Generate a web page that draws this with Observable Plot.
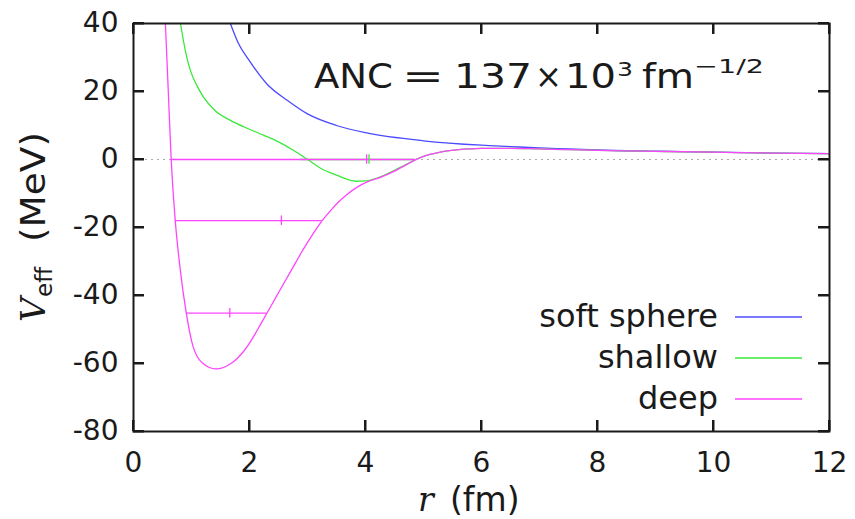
<!DOCTYPE html>
<html><head><meta charset="utf-8">
<script src="https://cdn.jsdelivr.net/npm/d3@7"></script>
<script src="https://cdn.jsdelivr.net/npm/@observablehq/plot@0.6"></script>
<style>body{margin:0;background:#fff}</style>
</head><body><div id="chart"></div>
<script>
const xTicks = [0, 2, 4, 6, 8, 10, 12];
const yTicks = [-80, -60, -40, -20, 0, 20, 40];
const seriesNames = ["soft sphere", "shallow", "deep"];
const seriesColors = ["#4a4aff", "#3ae83a", "#ff44ff"];

const softR = [1.67, 1.8, 2.0, 2.3, 2.65, 3.0, 3.5, 4.0, 5.0, 6.0, 6.5, 7.0, 7.5, 8, 9, 10, 11, 12];
const softV = [40, 34.5, 29, 22.2, 17.4, 13.4, 10.0, 7.9, 5.5, 4.2, 3.8, 3.4, 3.1, 2.8, 2.45, 2.15, 1.9, 1.75];

const shallowR = [0.81, 0.9, 0.98, 1.1, 1.21, 1.4, 1.67, 2.0, 2.25, 2.5, 2.75, 3.0, 3.25, 3.5, 3.83, 4.0, 4.31, 4.6, 4.86, 5.05, 5.29, 5.75, 6.0, 6.5, 7, 7.5, 8, 9, 10, 11, 12];
const shallowV = [40, 31.5, 26.2, 21.5, 18.3, 14.5, 11.5, 8.9, 7.1, 5.2, 2.8, 0, -2.8, -4.6, -6.4, -6.3, -4.7, -2.3, -0.1, 1.2, 2.2, 3.1, 3.3, 3.3, 3.1, 2.9, 2.7, 2.4, 2.15, 1.9, 1.75];

const deepR = [0.55, 0.6, 0.65, 0.72, 0.8, 0.91, 1.03, 1.1, 1.2, 1.3, 1.41, 1.5, 1.6, 1.7, 1.8, 1.9, 2.0, 2.1, 2.2, 2.29, 2.4, 2.5, 2.62, 2.8, 2.9, 3.0, 3.1, 3.2, 3.28, 3.4, 3.5, 3.68, 3.85, 4.03, 4.25, 4.49, 4.7, 4.86, 5.05, 5.29, 5.75, 6.0, 6.5, 7, 7.5, 8, 9, 10, 11, 12];
const deepV = [40, 20, 0, -18, -31.5, -45.2, -55.2, -58.0, -60.0, -61.1, -61.6, -61.4, -60.8, -59.8, -58.3, -56.4, -54.0, -51.2, -48.2, -45.5, -42.2, -39.2, -35.6, -30.2, -27.2, -24.4, -21.7, -19.2, -17.4, -15.0, -13.1, -10.3, -8.2, -6.6, -5.3, -3.5, -1.6, -0.1, 1.2, 2.2, 3.1, 3.3, 3.3, 3.1, 2.9, 2.7, 2.4, 2.15, 1.9, 1.75];

// bound-state levels: series, energy, left/right turning points, tick position
const levelSeries = ["shallow", "deep", "deep", "deep"];
const levelE = [0, 0, -18, -45.2];
const levelR1 = [2.88, 0.65, 0.72, 0.91];
const levelR2 = [4.86, 4.86, 3.25, 2.3];
const levelTick = [4.06, 4.02, 2.55, 1.66];

const color = Object.fromEntries(seriesNames.map((n, i) => [n, seriesColors[i]]));
const curves = [
  ...softR.map((r, i) => ({series: "soft sphere", r, V: softV[i]})),
  ...shallowR.map((r, i) => ({series: "shallow", r, V: shallowV[i]})),
  ...deepR.map((r, i) => ({series: "deep", r, V: deepV[i]}))
];
const levels = levelSeries.map((s, i) => ({series: s, E: levelE[i], r1: levelR1[i], r2: levelR2[i], rt: levelTick[i]}));

const W = 855, H = 519;
const mL = 133, mR = 26, mT = 23, mB = 88;
const ink = "#1a1a1a";
const font = "DejaVu Sans";
const xMin = xTicks[0], xMax = xTicks[xTicks.length - 1];
const yMin = yTicks[0], yMax = yTicks[yTicks.length - 1];
const tickPx = 11;
const tx = tickPx * (xMax - xMin) / (W - mL - mR);   // tick length in x units
const ty = tickPx * (yMax - yMin) / (H - mT - mB);   // tick length in y units

function decorations() {
  const g = d3.create("svg:g").attr("text-anchor", "start").attr("fill", ink).attr("font-family", font);
  // ANC annotation
  const pieces = [
    {t: "ANC", x: 314, s: 33, y: 88, len: 79},
    {t: "=", x: 402, s: 33, y: 88, len: 42},
    {t: "137", x: 454, s: 33, y: 88, len: 78},
    {t: "×", x: 535, s: 33, y: 88, len: 27},
    {t: "10", x: 565, s: 33, y: 88, len: 51},
    {t: "3", x: 617, s: 19, y: 76, len: 16},
    {t: "fm", x: 642, s: 33, y: 88, len: 52},
    {t: "−1/2", x: 694, s: 20, y: 73, len: 70}
  ];
  for (const p of pieces) g.append("text").attr("x", p.x).attr("y", p.y).attr("font-size", p.s)
    .attr("textLength", p.len).attr("lengthAdjust", "spacingAndGlyphs").text(p.t);
  // x label
  g.append("text").attr("x", 418).attr("y", 511).attr("font-size", 33).attr("font-family", "DejaVu Serif").attr("font-style", "italic").text("r");
  g.append("text").attr("x", 450).attr("y", 511).attr("font-size", 33).text("(fm)");
  // y label
  const yl = g.append("g").attr("transform", "translate(45,0) rotate(-90)");
  yl.append("text").attr("x", -322).attr("y", 0).attr("font-size", 34).attr("font-family", "DejaVu Serif").attr("font-style", "italic").text("V");
  yl.append("text").attr("x", -297).attr("y", 7).attr("font-size", 23).text("eff");
  yl.append("text").attr("x", -242).attr("y", 0).attr("font-size", 34).attr("textLength", 110).attr("lengthAdjust", "spacingAndGlyphs").text("(MeV)");
  // legend
  seriesNames.forEach((n, i) => {
    const cy = 317 + i * 41;
    g.append("text").attr("x", 718).attr("y", cy + 10).attr("text-anchor", "end").attr("font-size", 32).text(n);
    g.append("line").attr("x1", 735).attr("x2", 802).attr("y1", cy).attr("y2", cy).attr("stroke", seriesColors[i]).attr("stroke-width", 1.3);
  });
  return g.node();
}

const chart = Plot.plot({
  width: W, height: H,
  marginLeft: mL, marginRight: mR, marginTop: mT, marginBottom: mB,
  style: {fontFamily: font, fontSize: "28px", background: "#fff", color: ink, overflow: "visible"},
  x: {domain: [xMin, xMax]},
  y: {domain: [yMin, yMax]},
  marks: [
    // inward mirrored ticks
    Plot.ruleX(xTicks, {x: d => d, y1: yMin, y2: yMin + ty, stroke: ink, strokeWidth: 2}),
    Plot.ruleX(xTicks, {x: d => d, y1: yMax, y2: yMax - ty, stroke: ink, strokeWidth: 2}),
    Plot.ruleY(yTicks, {y: d => d, x1: xMin, x2: xMin + tx, stroke: ink, strokeWidth: 2}),
    Plot.ruleY(yTicks, {y: d => d, x1: xMax, x2: xMax - tx, stroke: ink, strokeWidth: 2}),
    Plot.ruleY([0], {stroke: "#aaa", strokeDasharray: "2,4", strokeWidth: 1}),
    Plot.line(curves, {x: "r", y: "V", z: "series", stroke: d => color[d.series], strokeWidth: 1.3, curve: "monotone-x"}),
    Plot.ruleY(levels, {y: "E", x1: "r1", x2: "r2", stroke: d => color[d.series], strokeWidth: 1.3}),
    Plot.ruleX(levels, {x: "rt", y1: d => d.E - 1.4, y2: d => d.E + 1.4, stroke: d => color[d.series], strokeWidth: 1.3}),
    Plot.frame({stroke: ink, strokeWidth: 2}),
    Plot.axisX({ticks: xTicks, tickSize: 0, tickPadding: 21, label: null, fontSize: 28, tickFormat: d => `${d}`}),
    Plot.axisY({ticks: yTicks, tickSize: 0, tickPadding: 15, label: null, fontSize: 28, tickFormat: d => `${d}`}),
    decorations
  ]
});
// mirrored inward ticks drawn again through the chart's own scales
const sx = chart.scale("x"), sy = chart.scale("y");
const tg = d3.select(chart).append("g").attr("stroke", ink).attr("stroke-width", 2);
for (const t of xTicks) {
  const px = sx.apply(t);
  tg.append("line").attr("x1", px).attr("x2", px).attr("y1", sy.apply(yMin)).attr("y2", sy.apply(yMin) - tickPx);
  tg.append("line").attr("x1", px).attr("x2", px).attr("y1", sy.apply(yMax)).attr("y2", sy.apply(yMax) + tickPx);
}
for (const t of yTicks) {
  const py = sy.apply(t);
  tg.append("line").attr("y1", py).attr("y2", py).attr("x1", sx.apply(xMin)).attr("x2", sx.apply(xMin) + tickPx);
  tg.append("line").attr("y1", py).attr("y2", py).attr("x1", sx.apply(xMax)).attr("x2", sx.apply(xMax) - tickPx);
}
document.getElementById("chart").appendChild(chart);
</script></body></html>
